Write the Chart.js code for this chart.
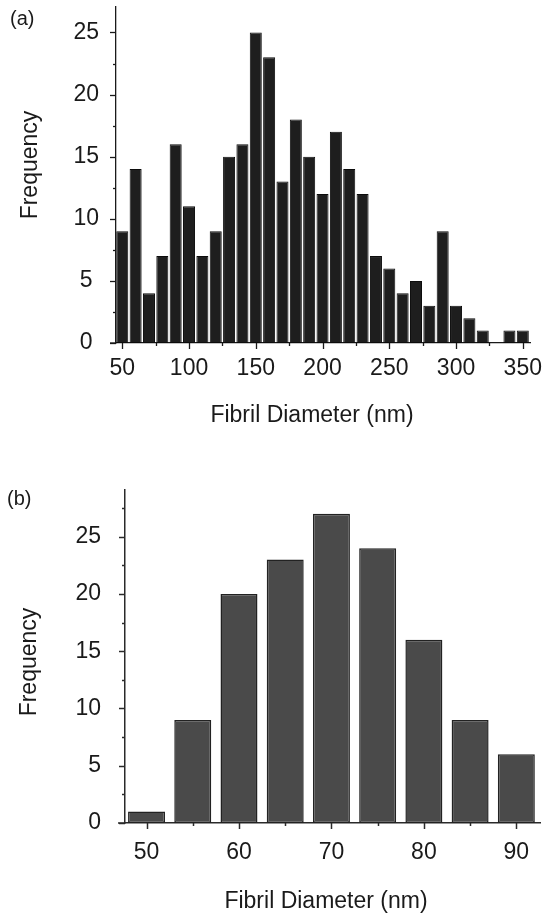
<!DOCTYPE html>
<html>
<head>
<meta charset="utf-8">
<script src="https://cdn.jsdelivr.net/npm/chart.js@4.4.0/dist/chart.umd.min.js"></script>
<style>
  body { margin: 0; background: #fff; }
  #wrap { position: relative; width: 543px; height: 916px; overflow: hidden;
          font-family: "Liberation Sans", Arial, sans-serif; color: #1a1a1a; }
  canvas { position: absolute; left: 0; }
  .txt { position: absolute; white-space: nowrap; line-height: 1; }
  .panel { font-size: 20px; }
  .title { font-size: 23px; transform: translateX(-50%); }
  .ylab { font-size: 23px; transform: translate(-50%, -50%) rotate(-90deg); }
</style>
</head>
<body>
<div id="wrap">
  <canvas id="chartA" width="543" height="460" style="top:0;width:543px;height:460px"></canvas>
  <canvas id="chartB" width="543" height="456" style="top:460px;width:543px;height:456px"></canvas>
  <div class="txt panel" style="left:10px;top:8px">(a)</div>
  <div class="txt panel" style="left:7px;top:488px">(b)</div>
  <div class="txt ylab" style="left:29px;top:165px">Frequency</div>
  <div class="txt ylab" style="left:28px;top:662px">Frequency</div>
  <div class="txt title" style="left:312px;top:403px">Fibril Diameter (nm)</div>
  <div class="txt title" style="left:326px;top:889px">Fibril Diameter (nm)</div>
</div>
<script>
// panel (a): diameter bins (nm) and counts
const binsA = [50, 60, 70, 80, 90, 100, 110, 120, 130, 140, 150, 160, 170, 180, 190, 200,
               210, 220, 230, 240, 250, 260, 270, 280, 290, 300, 310, 320, 330, 340, 350];
const countsA = [9, 14, 4, 7, 16, 11, 7, 9, 15, 16, 25, 23, 13, 18, 15, 12,
                 17, 14, 12, 7, 6, 4, 5, 3, 9, 3, 2, 1, 0, 1, 1];

// panel (b)
const binsB = [50, 55, 60, 65, 70, 75, 80, 85, 90];
const countsB = [1, 9, 20, 23, 27, 24, 16, 9, 6];

const FONT = "'Liberation Sans', Arial, sans-serif";

// short outward tick marks, longer on labelled values
const tickMarks = {
  id: 'tickMarks',
  afterDraw(chart, args, opts) {
    const ctx = chart.ctx;
    const xs = chart.scales.x, ys = chart.scales.y;
    ctx.save();
    ctx.strokeStyle = opts.color;
    ctx.lineWidth = opts.width;
    // x axis line pokes out a little left of the y axis
    ctx.beginPath();
    ctx.moveTo(ys.right - opts.stub, xs.top);
    ctx.lineTo(ys.right, xs.top);
    ctx.stroke();
    xs.ticks.forEach(t => {
      const px = Math.round(xs.getPixelForValue(t.value)) + 0.5;
      const len = t.value % opts.xMajor === 0 ? 6 : 3;
      ctx.beginPath();
      ctx.moveTo(px, xs.top);
      ctx.lineTo(px, xs.top + len);
      ctx.stroke();
    });
    ys.ticks.forEach(t => {
      const py = Math.round(ys.getPixelForValue(t.value)) + 0.5;
      const len = t.value % opts.yMajor === 0 ? 6 : 3;
      ctx.beginPath();
      ctx.moveTo(ys.right, py);
      ctx.lineTo(ys.right - len, py);
      ctx.stroke();
    });
    ctx.restore();
  }
};

function histogram(id, bins, counts, o) {
  new Chart(document.getElementById(id), {
    type: 'bar',
    data: {
      datasets: [{
        data: bins.map((b, i) => ({ x: b, y: counts[i] })),
        backgroundColor: o.fill,
        borderColor: o.edge,
        borderWidth: o.edgeWidth,
        borderSkipped: false,
        barPercentage: o.barPct,
        categoryPercentage: 1
      }]
    },
    plugins: [tickMarks],
    options: {
      responsive: false,
      animation: false,
      events: [],
      layout: { padding: o.pad },
      plugins: {
        legend: { display: false },
        tooltip: { enabled: false },
        tickMarks: { color: o.axis, width: o.axisWidth, xMajor: o.xLabelEvery, yMajor: o.yLabelEvery, stub: o.stub }
      },
      scales: {
        x: {
          type: 'linear',
          offset: false,
          min: o.xMin, max: o.xMax,
          grid: { display: false, offset: false, drawTicks: false },
          border: { display: true, color: o.axis, width: o.axisWidth },
          ticks: {
            stepSize: o.xStep,
            includeBounds: false,
            autoSkip: false,
            maxRotation: 0,
            padding: o.xPad,
            color: '#1a1a1a',
            font: { family: FONT, size: 23 },
            callback: v => (v % o.xLabelEvery === 0 ? v : '')
          },
          afterFit: s => { s.height = o.xHeight; s.paddingLeft = 0; s.paddingRight = 0; }
        },
        y: {
          min: 0, max: o.yMax,
          grid: { display: false, drawTicks: false },
          border: { display: true, color: o.axis, width: o.axisWidth },
          ticks: {
            stepSize: 2.5,
            includeBounds: false,
            autoSkip: false,
            padding: o.yPad,
            crossAlign: o.yAlign,
            color: '#1a1a1a',
            font: { family: FONT, size: 23 },
            callback: v => (v % o.yLabelEvery === 0 ? v : '')
          },
          afterFit: s => { s.width = o.yWidth; s.paddingTop = 0; s.paddingBottom = 0; }
        }
      }
    }
  });
}

histogram('chartA', binsA, countsA, {
  fill: '#1e1e1e', edge: '#0c0c0c', edgeWidth: 1, barPct: 0.9,
  axis: '#1a1a1a', axisWidth: 1.3, stub: 6,
  xMin: 45.3, xMax: 355.4, xStep: 25, xLabelEvery: 50,
  yMax: 27.05, yLabelEvery: 5,
  pad: { top: 7, right: 13, left: 0, bottom: 0 },
  xHeight: 117, yWidth: 116, xPad: 12, yPad: 17, yAlign: 'center'
});

histogram('chartB', binsB, countsB, {
  fill: '#4a4a4a', edge: '#222222', edgeWidth: 1.5, barPct: 0.8,
  axis: '#2a2a2a', axisWidth: 1.5, stub: 7,
  xMin: 47.67, xMax: 92.56, xStep: 5, xLabelEvery: 10,
  yMax: 29.08, yLabelEvery: 5,
  pad: { top: 30, right: 3, left: 0, bottom: 0 },
  xHeight: 93, yWidth: 125, xPad: 16, yPad: 24, yAlign: 'near'
});
</script>
</body>
</html>
